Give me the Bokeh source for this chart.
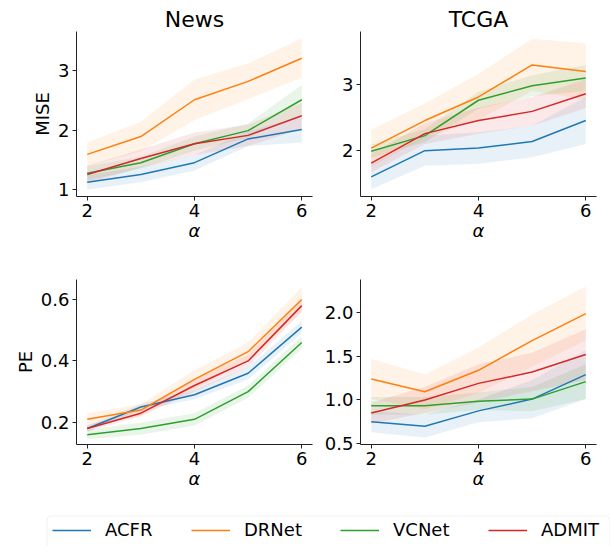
from bokeh.plotting import figure
from bokeh.layouts import column, row
from bokeh.models import (Range1d, Legend, LegendItem, BoxAnnotation,
                          NumeralTickFormatter, FixedTicker)
from bokeh.embed import file_html
from bokeh.resources import INLINE

FONT = "DejaVu Sans"
alpha = [2, 3, 4, 5, 6]
methods = ["ACFR", "DRNet", "VCNet", "ADMIT"]
colors = ["#1f77b4", "#ff7f0e", "#2ca02c", "#d62728"]

# News - MISE
news_mise_acfr = [1.12, 1.25, 1.45, 1.85, 2.01]
news_mise_acfr_sd = [0.12, 0.13, 0.13, 0.12, 0.22]
news_mise_drnet = [1.59, 1.89, 2.51, 2.82, 3.21]
news_mise_drnet_sd = [0.20, 0.25, 0.34, 0.30, 0.33]
news_mise_vcnet = [1.27, 1.45, 1.77, 1.99, 2.51]
news_mise_vcnet_sd = [0.12, 0.10, 0.12, 0.12, 0.25]
news_mise_admit = [1.25, 1.52, 1.77, 1.91, 2.24]
news_mise_admit_sd = [0.15, 0.15, 0.19, 0.18, 0.22]

# TCGA - MISE
tcga_mise_acfr = [1.59, 1.99, 2.03, 2.13, 2.45]
tcga_mise_acfr_sd = [0.19, 0.23, 0.24, 0.24, 0.36]
tcga_mise_drnet = [2.03, 2.45, 2.81, 3.30, 3.20]
tcga_mise_drnet_sd = [0.28, 0.26, 0.35, 0.40, 0.43]
tcga_mise_vcnet = [1.98, 2.22, 2.76, 2.98, 3.10]
tcga_mise_vcnet_sd = [0.10, 0.10, 0.13, 0.16, 0.20]
tcga_mise_admit = [1.80, 2.25, 2.45, 2.59, 2.86]
tcga_mise_admit_sd = [0.14, 0.16, 0.20, 0.22, 0.22]

# News - PE
news_pe_acfr = [0.18, 0.25, 0.29, 0.36, 0.51]
news_pe_acfr_sd = [0.010, 0.010, 0.015, 0.020, 0.020]
news_pe_drnet = [0.21, 0.24, 0.34, 0.43, 0.60]
news_pe_drnet_sd = [0.020, 0.020, 0.030, 0.030, 0.040]
news_pe_vcnet = [0.16, 0.18, 0.21, 0.30, 0.46]
news_pe_vcnet_sd = [0.015, 0.020, 0.020, 0.020, 0.020]
news_pe_admit = [0.18, 0.23, 0.32, 0.40, 0.58]
news_pe_admit_sd = [0.010, 0.010, 0.020, 0.020, 0.020]

# TCGA - PE
tcga_pe_acfr = [0.75, 0.70, 0.875, 1.01, 1.29]
tcga_pe_acfr_sd = [0.12, 0.13, 0.13, 0.22, 0.28]
tcga_pe_drnet = [1.24, 1.095, 1.34, 1.68, 1.99]
tcga_pe_drnet_sd = [0.23, 0.20, 0.26, 0.30, 0.31]
tcga_pe_vcnet = [0.935, 0.935, 0.985, 1.01, 1.21]
tcga_pe_vcnet_sd = [0.10, 0.10, 0.10, 0.14, 0.20]
tcga_pe_admit = [0.85, 1.00, 1.19, 1.32, 1.52]
tcga_pe_admit_sd = [0.12, 0.15, 0.22, 0.22, 0.29]

x_ticks = [2, 4, 6]
mise_news_ticks = [1, 2, 3]
mise_tcga_ticks = [2, 3]
pe_news_ticks = [0.2, 0.4, 0.6]
pe_tcga_ticks = [0.5, 1.0, 1.5, 2.0]


def panel(series, yr, yticks, width, height, mb, title=None, ylabel=None, fmt=None):
    p = figure(width=width, height=height, output_backend="svg", toolbar_location=None,
               x_range=Range1d(1.8, 6.2), y_range=Range1d(*yr),
               min_border_left=mb[0], min_border_right=mb[1],
               min_border_top=mb[2], min_border_bottom=mb[3])
    p.grid.visible = False
    p.outline_line_color = None
    p.background_fill_color = "white"
    for (m, sd), c in zip(series, colors):
        lo = [a - b for a, b in zip(m, sd)]
        hi = [a + b for a, b in zip(m, sd)]
        p.varea(x=alpha, y1=lo, y2=hi, fill_color=c, fill_alpha=0.1)
    for (m, sd), c in zip(series, colors):
        p.line(x=alpha, y=m, line_color=c, line_width=1.5)
    p.xaxis.ticker = FixedTicker(ticks=x_ticks)
    p.yaxis.ticker = FixedTicker(ticks=yticks)
    if fmt:
        p.yaxis.formatter = NumeralTickFormatter(format=fmt)
    p.axis.major_label_text_font = FONT
    p.axis.major_label_text_font_size = "18px"
    p.axis.major_label_text_color = "black"
    p.axis.axis_line_color = "#222222"
    p.axis.axis_line_width = 1
    p.axis.major_tick_line_color = "#222222"
    p.axis.major_tick_in = 0
    p.axis.major_tick_out = 4
    p.axis.minor_tick_line_color = None
    p.axis.major_label_standoff = 3
    p.xaxis.axis_label = "α"
    p.xaxis.axis_label_text_font = FONT
    p.xaxis.axis_label_text_font_style = "italic"
    p.xaxis.axis_label_text_font_size = "18px"
    p.xaxis.axis_label_text_color = "black"
    p.xaxis.axis_label_standoff = 0
    if ylabel:
        p.yaxis.axis_label = ylabel
        p.yaxis.axis_label_text_font = FONT
        p.yaxis.axis_label_text_font_style = "normal"
        p.yaxis.axis_label_text_font_size = "18px"
        p.yaxis.axis_label_text_color = "black"
        p.yaxis.axis_label_standoff = 2
    if title:
        p.title.text = title
        p.title.align = "center"
        p.title.text_font = FONT
        p.title.text_font_size = "22px"
        p.title.text_font_style = "normal"
        p.title.text_color = "black"
        p.title.standoff = 0
        p.title.offset = 0
    return p


f1 = panel([(news_mise_acfr, news_mise_acfr_sd), (news_mise_drnet, news_mise_drnet_sd),
            (news_mise_vcnet, news_mise_vcnet_sd), (news_mise_admit, news_mise_admit_sd)],
           (0.88, 3.66), mise_news_ticks, 320, 250, (76, 8, 31, 54), title="News", ylabel="MISE")
f2 = panel([(tcga_mise_acfr, tcga_mise_acfr_sd), (tcga_mise_drnet, tcga_mise_drnet_sd),
            (tcga_mise_vcnet, tcga_mise_vcnet_sd), (tcga_mise_admit, tcga_mise_admit_sd)],
           (1.29, 3.81), mise_tcga_ticks, 290, 250, (40, 14, 31, 54), title="TCGA")
f3 = panel([(news_pe_acfr, news_pe_acfr_sd), (news_pe_drnet, news_pe_drnet_sd),
            (news_pe_vcnet, news_pe_vcnet_sd), (news_pe_admit, news_pe_admit_sd)],
           (0.128, 0.665), pe_news_ticks, 320, 250, (76, 8, 29, 56), ylabel="PE", fmt="0.0")
f4 = panel([(tcga_pe_acfr, tcga_pe_acfr_sd), (tcga_pe_drnet, tcga_pe_drnet_sd),
            (tcga_pe_vcnet, tcga_pe_vcnet_sd), (tcga_pe_admit, tcga_pe_admit_sd)],
           (0.49, 2.38), pe_tcga_ticks, 290, 250, (40, 14, 29, 56), fmt="0.0")

lf = figure(width=610, height=46, x_range=Range1d(0, 610), y_range=Range1d(0, 46),
            min_border=0, toolbar_location=None, output_backend="svg")
lf.axis.visible = False
lf.grid.visible = False
lf.outline_line_color = None
rs = [lf.line(x=[-20, -10], y=[-20, -10], line_color=c, line_width=1.5) for c in colors]
lf.add_layout(BoxAnnotation(left=46.5, right=609.5, bottom=-6, top=30.5, fill_color="white",
                            fill_alpha=1.0, line_color="#cccccc", line_width=1, border_radius=4))
item_x = [52, 191, 340, 488]
for m, r, xx in zip(methods, rs, item_x):
    lf.add_layout(Legend(items=[LegendItem(label=m, renderers=[r])],
                         orientation="horizontal", location=(xx, 6), border_line_color=None,
                         background_fill_alpha=0, glyph_width=39, glyph_height=20,
                         label_height=20, label_standoff=14, spacing=0, padding=0, margin=0,
                         label_text_font=FONT, label_text_font_size="18px",
                         label_text_color="black"))

layout = column(row(f1, f2), row(f3, f4), lf)
open("out.html", "w").write(file_html(layout, INLINE))
